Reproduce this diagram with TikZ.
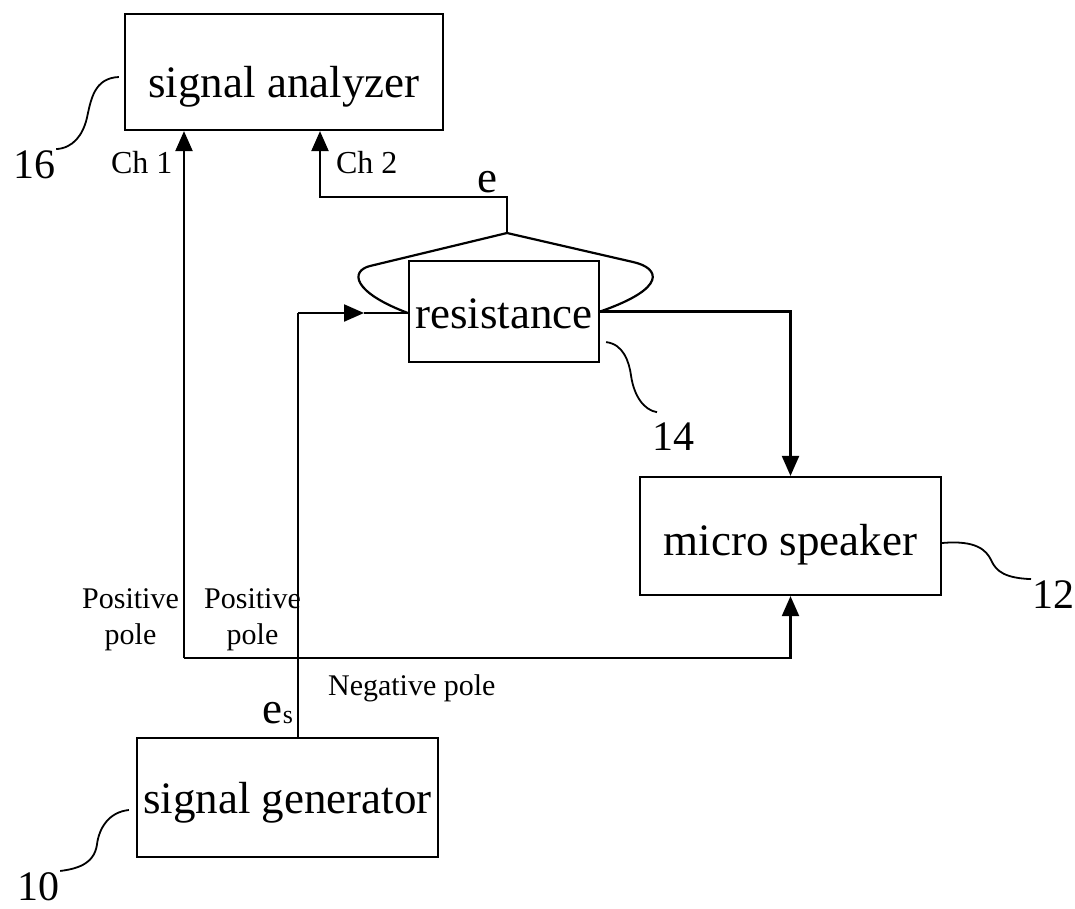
\documentclass[tikz,border=0pt]{standalone}
\usepackage{fontspec}
\setmainfont{Liberation Serif}
\usetikzlibrary{positioning}
\usetikzlibrary{arrows.meta}

\begin{document}
\begin{tikzpicture}[x=1pt,y=-1pt,line width=2.2pt,
 big/.style={inner sep=0pt,font=\fontsize{45}{50}\selectfont},
 box/.style={big,draw,text depth=0pt},
 tag/.style={inner sep=0pt,font=\fontsize{30}{36}\selectfont},
 num/.style={inner sep=0pt,anchor=base west,font=\fontsize{42}{48}\selectfont},
 lead/.style={line width=1.8pt},
 arr/.style={-{Triangle[length=20pt,width=17pt]}}]
 \useasboundingbox (0,0) rectangle (1075,908);
 \node[box,minimum width=318pt,minimum height=116pt,text height=50pt] (ana) at (284,72) {signal analyzer};
 \node[box,minimum width=190pt,minimum height=101pt,text height=33pt] (res) at (504,311.5) {resistance};
 \node[box,minimum width=301pt,minimum height=118pt,text height=38pt] (spk) at (790.5,536) {micro speaker};
 \node[box,minimum width=301pt,minimum height=119pt,text height=31pt] (gen) at (287.5,797.5) {signal generator};
 \coordinate (ch1) at (184,658);
 \coordinate (pp) at (298,313);
 \coordinate (tip) at (364,313);
 \coordinate (apex) at (507,233);
 \coordinate (ch2) at (320,197);
 \draw[arr] (ch1) -- (ch1 |- ana.south);
 \draw[arr] (ch1) -| (spk.south);
 \draw (gen.north -| pp) -- (pp);
 \draw[arr] (pp) -- (tip);
 \draw (tip) -- (res.west |- tip);
 \draw[arr] (res.east) -| (spk.north);
 \draw[arr] (apex) |- (ch2) -- (ch2 |- ana.south);
 \draw (res.west |- pp) .. controls (352,292) and (350,271) .. (370,266) -- (apex) -- (633,262) .. controls (660,268) and (668,288) .. (res.east);
 \node[tag,anchor=base west,font=\fontsize{32}{36}\selectfont] (c1) at (110,173) {Ch 1};
 \node[tag,anchor=base west,font=\fontsize{32}{36}\selectfont] (c2) at (335,173) {Ch 2};
 \node[big,anchor=base] (ev) at (487.5,192) {e};
 \node[tag,align=center] (pos1) at (130.5,620) {Positive\\pole};
 \node[tag,align=center] (pos2) at (252.5,620) {Positive\\pole};
 \node[tag,anchor=base west] (neg) at (327,695) {Negative pole};
 \node[big,anchor=base east] (es) at (294,723) {e{\fontsize{26}{26}\selectfont s}};
 \node[num] (n16) at (12,178) {16};
 \node[num] (n14) at (651,450) {14};
 \node[num] (n12) at (1031,608) {12};
 \node[num] (n10) at (16,900) {10};
 \draw[lead] (ana.west) ++(-5,5) .. controls +(-25,1) and +(4,-18) .. ++(-32,41) .. controls +(-4,17) and +(17,-1) .. (n16.north east);
 \draw[lead] (gen.west) ++(-7,12.5) .. controls +(-20,2) and +(2,-17) .. ++(-32,35) .. controls +(-3,20) and +(15,-2) .. (n10.north east);
 \draw[lead] (res.south east) ++(6,-21) .. controls +(17,2) and +(-2,-15) .. ++(25,34) .. controls +(3,20) and +(-13,-2) .. ([shift={(6,-9)}]n14.north west);
 \draw[lead] (spk.east) ++(0,7) .. controls +(34,-3) and +(-5,-10) .. ++(49,17) .. controls +(5,12) and +(-25,-1) .. (n12.north west);
\end{tikzpicture}
\end{document}
